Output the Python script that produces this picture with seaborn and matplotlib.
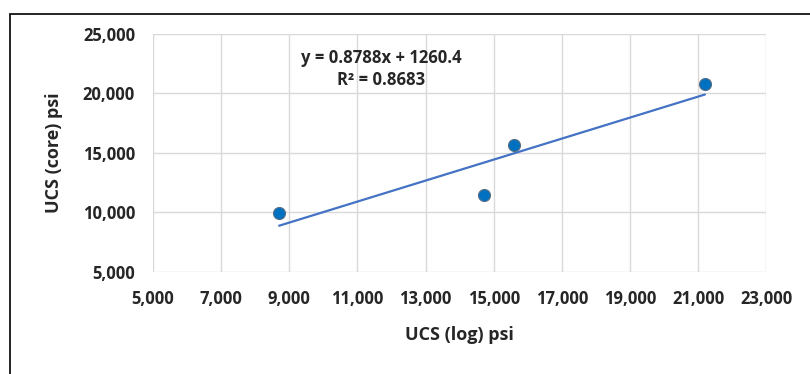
import numpy as np
import pandas as pd
import matplotlib
matplotlib.use("Agg")
import matplotlib.pyplot as plt
import seaborn as sns
from matplotlib.patches import Rectangle
from matplotlib.ticker import FuncFormatter

# data
ucs_log = [8700, 14700, 15600, 21200]
ucs_core = [9950, 11500, 15700, 20800]
eq_text = "y = 0.8788x + 1260.4"
r2_text = "R² = 0.8683"
x_ticks = list(range(5000, 23001, 2000))
y_ticks = list(range(5000, 25001, 5000))

df = pd.DataFrame({"UCS (log) psi": ucs_log, "UCS (core) psi": ucs_core})

sns.set_style("white")
plt.rcParams["font.family"] = ["Open Sans", "DejaVu Sans"]

fig = plt.figure(figsize=(8.1, 3.74), dpi=100)
ax = fig.add_axes([0.189, 0.273, 0.757, 0.636])

# outer frame
fig.patches.append(Rectangle((10 / 810, -0.05), 1.0, 1 - 14 / 374 + 0.05,
                             transform=fig.transFigure, fill=False,
                             edgecolor="black", linewidth=1.2))

# trend line from linear fit
coef = np.polyfit(df["UCS (log) psi"], df["UCS (core) psi"], 1)
xs = np.array([min(ucs_log), max(ucs_log)])
ax.plot(xs, np.polyval(coef, xs), color="#4472C4", linewidth=1.6, zorder=2)

sns.scatterplot(data=df, x="UCS (log) psi", y="UCS (core) psi", ax=ax,
                color="#0070C0", edgecolor="#5a6e85", linewidth=0.8,
                s=75, zorder=3)

ax.set_xlim(5000, 23000)
ax.set_ylim(5000, 25000)
ax.set_xticks(x_ticks)
ax.set_yticks(y_ticks)
fmt = FuncFormatter(lambda v, p: f"{int(v):,}")
ax.xaxis.set_major_formatter(fmt)
ax.yaxis.set_major_formatter(fmt)
ax.grid(True, color="#d9d9d9", linewidth=1.0)
for s in ax.spines.values():
    s.set_visible(False)
ax.tick_params(axis="both", length=0, labelsize=12)
ax.tick_params(axis="x", pad=13)
ax.tick_params(axis="y", pad=13)
for lab in ax.get_xticklabels() + ax.get_yticklabels():
    lab.set_fontweight("bold")

ax.set_xlabel("UCS (log) psi", fontsize=13, fontweight="bold", labelpad=13)
ax.set_ylabel("UCS (core) psi", fontsize=13, fontweight="bold", labelpad=14)

ax.text(11700, 23000, eq_text, ha="center", va="center", fontsize=12, fontweight="bold")
ax.text(11700, 21100, r2_text, ha="center", va="center", fontsize=12, fontweight="bold")

fig.savefig("out.png", dpi=100)
